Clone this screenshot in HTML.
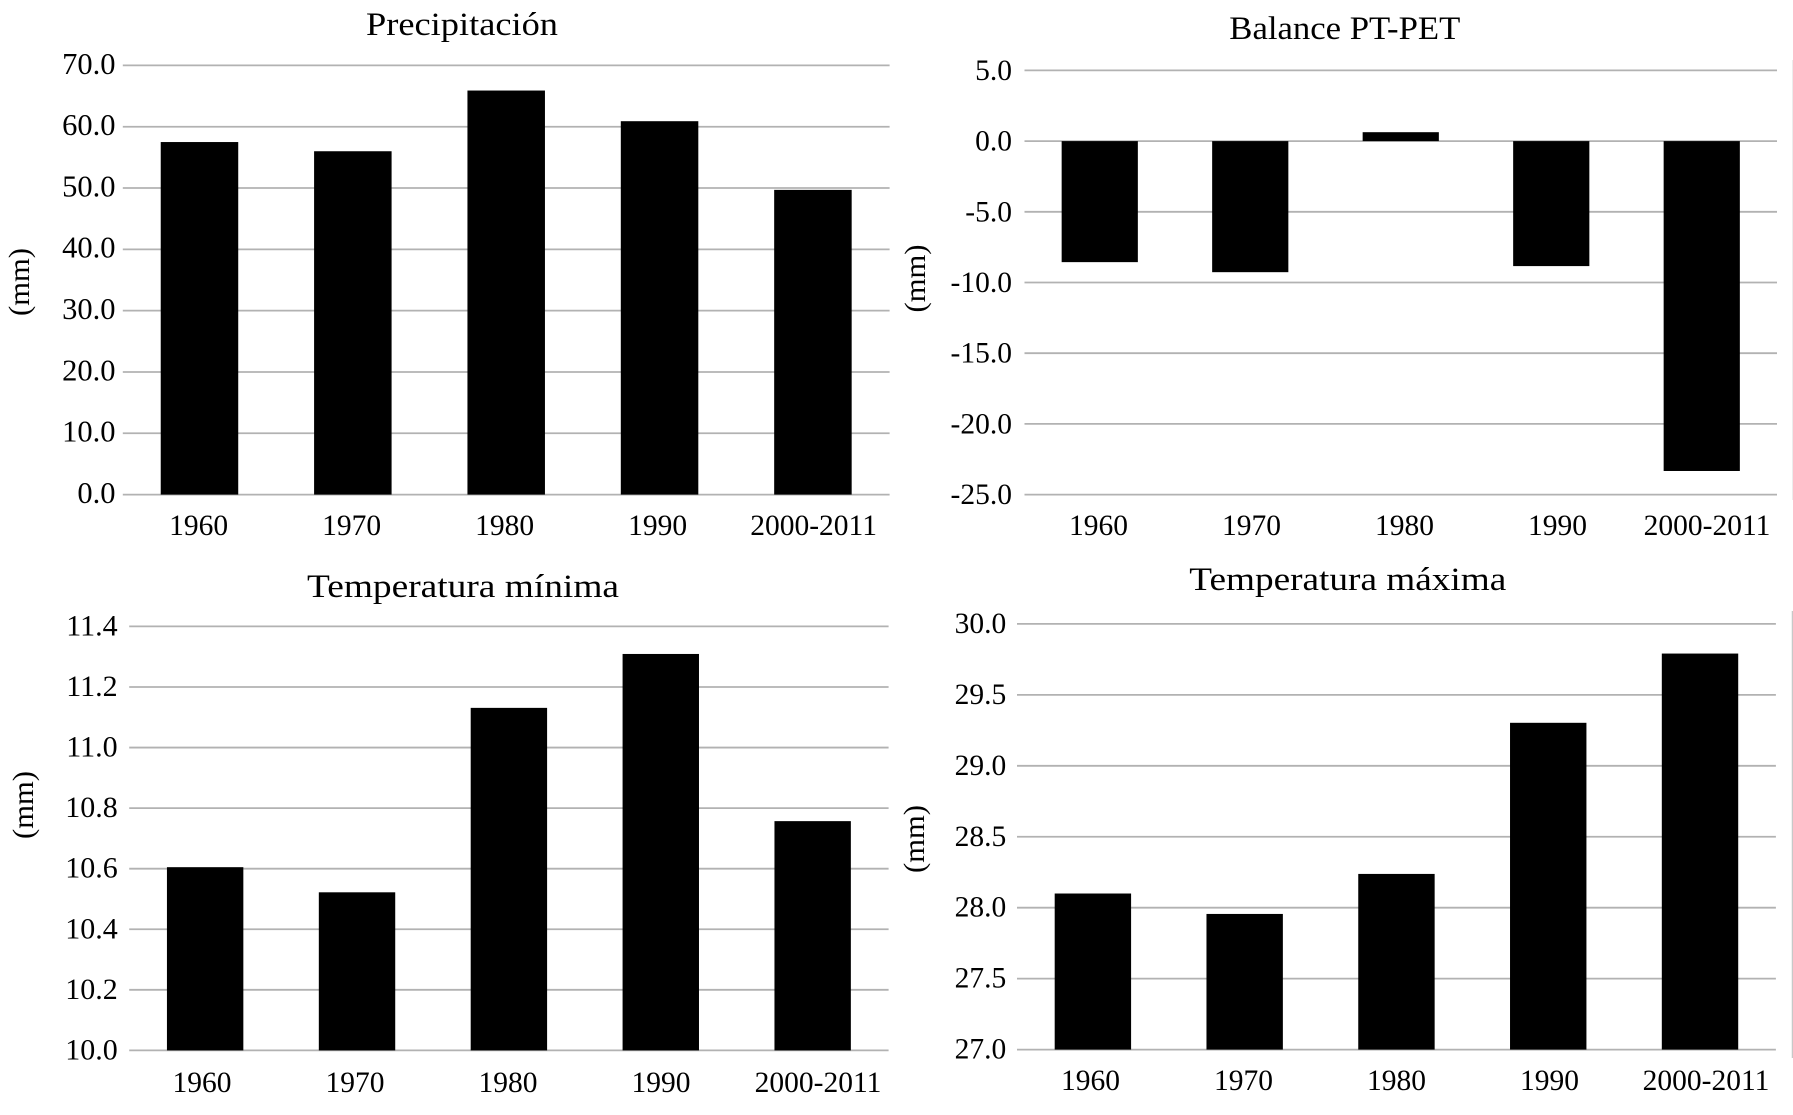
<!DOCTYPE html>
<html lang="es">
<head>
<meta charset="utf-8">
<title>Precipitación, balance y temperaturas por década</title>
<style>
  html, body { margin: 0; padding: 0; background: #fff; }
  svg { display: block; }
  text { font-family: "Liberation Serif", serif; fill: #000; }
  .title { font-size: 32.5px; text-anchor: middle; }
  .unit { font-size: 30px; text-anchor: middle; }
  .tick { font-size: 29.5px; }
</style>
</head>
<body>
<svg id="figure" xmlns="http://www.w3.org/2000/svg" width="1793" height="1115" viewBox="0 0 1793 1115">
  <rect width="1793" height="1115" fill="#ffffff"/>
  <line x1="1792.5" y1="60" x2="1792.5" y2="500" stroke="#ececec" stroke-width="1"/>
  <line x1="1792.5" y1="611" x2="1792.5" y2="1058" stroke="#c8c8c8" stroke-width="1.5"/>

  <g id="chart-precip">
    <text class="title" x="462" y="35" textLength="192" lengthAdjust="spacingAndGlyphs">Precipitación</text>
    <text class="unit" transform="translate(29 282) rotate(-90)" textLength="68" lengthAdjust="spacingAndGlyphs">(mm)</text>
  </g>
  <g id="chart-balance">
    <text class="title" x="1344.8" y="39" textLength="231" lengthAdjust="spacingAndGlyphs">Balance PT-PET</text>
    <text class="unit" transform="translate(925 278.5) rotate(-90)" textLength="68" lengthAdjust="spacingAndGlyphs">(mm)</text>
  </g>
  <g id="chart-tmin">
    <text class="title" x="463" y="597" textLength="312" lengthAdjust="spacingAndGlyphs">Temperatura mínima</text>
    <text class="unit" transform="translate(33 805) rotate(-90)" textLength="68" lengthAdjust="spacingAndGlyphs">(mm)</text>
  </g>
  <g id="chart-tmax">
    <text class="title" x="1347.8" y="590" textLength="317" lengthAdjust="spacingAndGlyphs">Temperatura máxima</text>
    <text class="unit" transform="translate(924 839) rotate(-90)" textLength="68" lengthAdjust="spacingAndGlyphs">(mm)</text>
  </g>
</svg>
<script>
const categories = ['1960', '1970', '1980', '1990', '2000-2011'];

const precipitationValues = [57.5, 56.0, 65.9, 60.9, 49.7];
const balanceValues = [-8.56, -9.27, 0.63, -8.84, -23.33];
const minTemperatureValues = [10.605, 10.522, 11.131, 11.309, 10.757];
const maxTemperatureValues = [28.10, 27.956, 28.238, 29.303, 29.791];

const precipitationTicks = ['70.0', '60.0', '50.0', '40.0', '30.0', '20.0', '10.0', '0.0'];
const balanceTicks = ['5.0', '0.0', '-5.0', '-10.0', '-15.0', '-20.0', '-25.0'];
const minTemperatureTicks = ['11.4', '11.2', '11.0', '10.8', '10.6', '10.4', '10.2', '10.0'];
const maxTemperatureTicks = ['30.0', '29.5', '29.0', '28.5', '28.0', '27.5', '27.0'];

const NS = 'http://www.w3.org/2000/svg';

function drawChart(groupId, values, ticks, box) {
  const group = document.getElementById(groupId);
  const tickNumbers = ticks.map(Number);
  const maxTick = Math.max(...tickNumbers);
  const minTick = Math.min(...tickNumbers);
  const yScale = v => box.top + (maxTick - v) / (maxTick - minTick) * (box.bottom - box.top);
  const band = (box.right - box.left) / categories.length;
  const xCenter = i => box.left + band * (i + 0.5);
  const labelX = i => box.labelStart + box.labelStep * i;

  ticks.forEach(t => {
    const y = yScale(Number(t));
    const grid = document.createElementNS(NS, 'line');
    
    
    grid.setAttribute('x1', box.left);
    grid.setAttribute('x2', box.right);
    grid.setAttribute('y1', y);
    grid.setAttribute('y2', y);
    grid.setAttribute('stroke', '#b2b2b2');
    grid.setAttribute('stroke-width', '1.8');
    group.appendChild(grid);

    const label = document.createElementNS(NS, 'text');
    
    
    label.setAttribute('class', 'tick');
    label.setAttribute('x', box.tickRight);
    label.setAttribute('y', y + box.tickDrop);
    label.setAttribute('text-anchor', 'end');
    label.style.fontSize = box.tickFont + 'px';
    label.textContent = t;
    group.appendChild(label);
  });

  const baseValue = Math.max(minTick, Math.min(maxTick, 0));
  values.forEach((v, i) => {
    const y0 = yScale(baseValue);
    const y1 = yScale(v);
    const bar = document.createElementNS(NS, 'rect');
    
    
    bar.setAttribute('x', xCenter(i) - box.barWidth / 2);
    bar.setAttribute('width', box.barWidth);
    bar.setAttribute('y', Math.min(y0, y1));
    bar.setAttribute('height', Math.abs(y1 - y0));
    bar.setAttribute('fill', '#000000');
    group.appendChild(bar);

    const label = document.createElementNS(NS, 'text');
    
    
    label.setAttribute('class', 'tick');
    label.setAttribute('x', labelX(i) + (i === categories.length - 1 ? box.lastLabelShift : 0));
    label.setAttribute('y', box.labelBaseline);
    label.setAttribute('text-anchor', 'middle');
    label.textContent = categories[i];
    group.appendChild(label);
  });
}

drawChart('chart-precip', precipitationValues, precipitationTicks, {
  left: 122.8, right: 889.6, top: 65.4, bottom: 494.6, tickRight: 115.5, tickDrop: 8.4, tickFont: 30.5,
  barWidth: 77.5, labelStart: 198.6, labelStep: 153, lastLabelShift: 3, labelBaseline: 535
});
drawChart('chart-balance', balanceValues, balanceTicks, {
  left: 1024.5, right: 1777, top: 70.4, bottom: 494.6, tickRight: 1012, tickDrop: 9.5, tickFont: 29.5,
  barWidth: 76.2, labelStart: 1098.5, labelStep: 153, lastLabelShift: -3.5, labelBaseline: 535
});
drawChart('chart-tmin', minTemperatureValues, minTemperatureTicks, {
  left: 129.2, right: 888.6, top: 626.4, bottom: 1050.4, tickRight: 117.7, tickDrop: 9, tickFont: 30,
  barWidth: 76.4, labelStart: 202, labelStep: 153, lastLabelShift: 4, labelBaseline: 1091.8
});
drawChart('chart-tmax', maxTemperatureValues, maxTemperatureTicks, {
  left: 1017, right: 1775.9, top: 623.9, bottom: 1049.6, tickRight: 1006.2, tickDrop: 9, tickFont: 29.5,
  barWidth: 76.4, labelStart: 1090.5, labelStep: 153, lastLabelShift: 3.5, labelBaseline: 1090
});
</script>
</body>
</html>
